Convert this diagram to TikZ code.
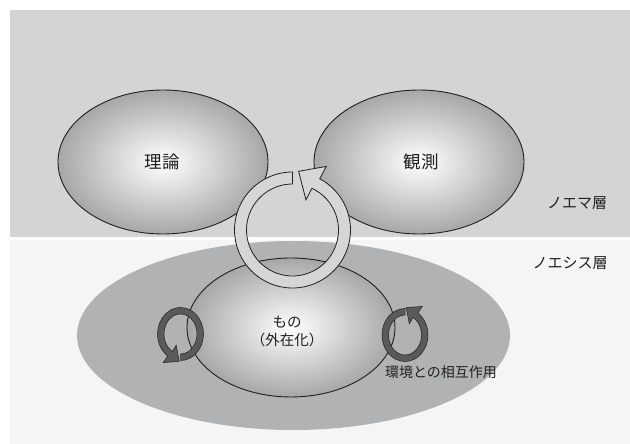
\documentclass[tikz,border=0pt]{standalone}
\usepackage{fontspec}
\setmainfont{Noto Sans CJK JP}
\definecolor{topband}{RGB}{211,212,214}
\definecolor{lowband}{RGB}{245,245,245}
\definecolor{bigell}{RGB}{177,178,180}
\definecolor{ellshade}{RGB}{166,167,169}
\definecolor{ringfill}{RGB}{213,214,216}
\definecolor{darkringc}{RGB}{89,90,92}
\definecolor{txt}{RGB}{35,31,32}
\begin{document}
\begin{tikzpicture}[x=1pt,y=1pt,
  ell/.style={draw=txt, line width=0.9pt, shade, inner color=white, outer color=ellshade},
  bigring/.style={fill=ringfill, draw=txt, line width=0.8pt, line join=miter},
  darkring/.style={fill=darkringc, draw=txt, line width=0.5pt, line join=miter},
  lbl/.style={text=txt, inner sep=0pt, font=\fontsize{15}{18}\selectfont}]
\useasboundingbox (0,0) rectangle (630,444);
% bands
\fill[topband] (10,207) rectangle (630,434);
\fill[lowband] (10,0) rectangle (630,207);
\draw[white, line width=2.5pt] (10,205.5) -- (630,205.5);
% upper ellipses
\path[ell] (163,282) ellipse [x radius=105, y radius=72];
\path[ell] (419,282) ellipse [x radius=105, y radius=72];
% lower ellipses
\fill[bigell] (293.5,108.5) ellipse [x radius=216.5, y radius=94.5];
\path[ell] (291,116.5) ellipse [x radius=104, y radius=69.5];
% big cycle arrow
\begin{scope}[shift={(292.5,214)}]
  \draw[bigring] (90:58) arc[start angle=90, end angle=422, radius=58]
    -- (62:72) -- (84:59) -- (66:33) -- (65:46)
    arc[start angle=425, end angle=90, radius=46] -- cycle;
\end{scope}
% small cycle arrows
\begin{scope}[shift={(405,109)}]
  \draw[darkring] (90:23 and 26.5) arc[start angle=90, end angle=416, x radius=23, y radius=26.5]
    -- (56:31 and 34.5) -- (87:23.5 and 27.5) -- (63:9.5 and 12.5) -- (61:16.5 and 20)
    arc[start angle=421, end angle=90, x radius=16.5, y radius=20] -- cycle;
\end{scope}
\begin{scope}[shift={(180.5,110)}, rotate=180]
  \draw[darkring] (90:23 and 26.5) arc[start angle=90, end angle=416, x radius=23, y radius=26.5]
    -- (56:31 and 34.5) -- (87:23.5 and 27.5) -- (63:9.5 and 12.5) -- (61:16.5 and 20)
    arc[start angle=421, end angle=90, x radius=16.5, y radius=20] -- cycle;
\end{scope}
% labels
\node[lbl, font=\fontsize{17.5}{20}\selectfont] (riron) at (162,282) {理論};
\node[lbl, font=\fontsize{17.5}{20}\selectfont] (kansoku) at (421,282) {観測};
\node[lbl] (noema) at (577,241) {ノエマ層};
\node[lbl] (noesis) at (570,181) {ノエシス層};
\node[lbl, align=center, font=\fontsize{14.5}{18}\selectfont] (mono) at (287,113) {もの\\（外在化）};
\node[lbl, font=\fontsize{14}{16}\selectfont] (kankyo) at (441,72) {環境との相互作用};
\end{tikzpicture}
\end{document}
